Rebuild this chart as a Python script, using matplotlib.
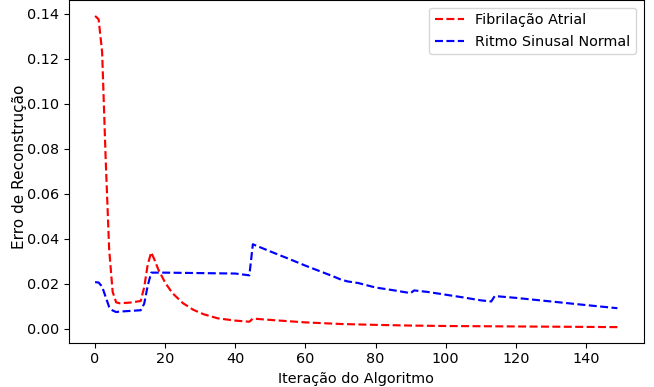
import matplotlib
matplotlib.use("Agg")
from matplotlib import pyplot as plt

# Fibrilação Atrial
itFA = [0, 1, 2, 3, 4, 5, 6, 7, 10, 13, 14, 15, 16, 17, 18, 20, 22, 25, 28,
        31, 35, 40, 44, 45, 50, 60, 70, 80, 90, 100, 110, 120, 130, 140, 149]
errFA = [0.1390, 0.1375, 0.1230, 0.0760, 0.0355, 0.0165, 0.0118, 0.0114,
         0.0117, 0.0124, 0.0185, 0.0285, 0.0340, 0.0305, 0.0265, 0.0205,
         0.0160, 0.0115, 0.0085, 0.0065, 0.0047, 0.0037, 0.0032, 0.0046,
         0.0040, 0.0029, 0.0022, 0.0018, 0.0015, 0.0013, 0.0012, 0.0011,
         0.0010, 0.0009, 0.0008]

# Ritmo Sinusal Normal
itRSN = [0, 1, 2, 3, 4, 5, 6, 7, 10, 13, 14, 15, 16, 20, 30, 40, 44, 45, 50,
         55, 60, 65, 68, 70, 72, 75, 80, 85, 90, 91, 95, 100, 105, 110, 113,
         114, 120, 130, 140, 149]
errRSN = [0.0208, 0.0206, 0.0188, 0.0142, 0.0098, 0.0082, 0.0075, 0.0077,
          0.0080, 0.0083, 0.0112, 0.0192, 0.0250, 0.0250, 0.0248, 0.0246,
          0.0238, 0.0376, 0.0344, 0.0313, 0.0281, 0.0251, 0.0233, 0.0220,
          0.0211, 0.0204, 0.0184, 0.0172, 0.0159, 0.0171, 0.0164, 0.0152,
          0.0140, 0.0127, 0.0122, 0.0146, 0.0138, 0.0122, 0.0106, 0.0092]

plt.rcParams["font.size"] = 10.4

fig = plt.figure(figsize=(6.54, 3.87), dpi=100)
ax = fig.add_axes([0.1055, 0.1145, 0.8785, 0.8845])
ax.plot(itFA, errFA, "r--", lw=1.55, label="Fibrilação Atrial")
ax.plot(itRSN, errRSN, "b--", lw=1.55, label="Ritmo Sinusal Normal")
ax.set_xlabel("Iteração do Algoritmo")
ax.set_ylabel("Erro de Reconstrução", fontsize=11)
ax.yaxis.set_label_coords(-0.073, 0.514)
ax.legend(loc="upper right")
fig.savefig("out.png", dpi=100)
